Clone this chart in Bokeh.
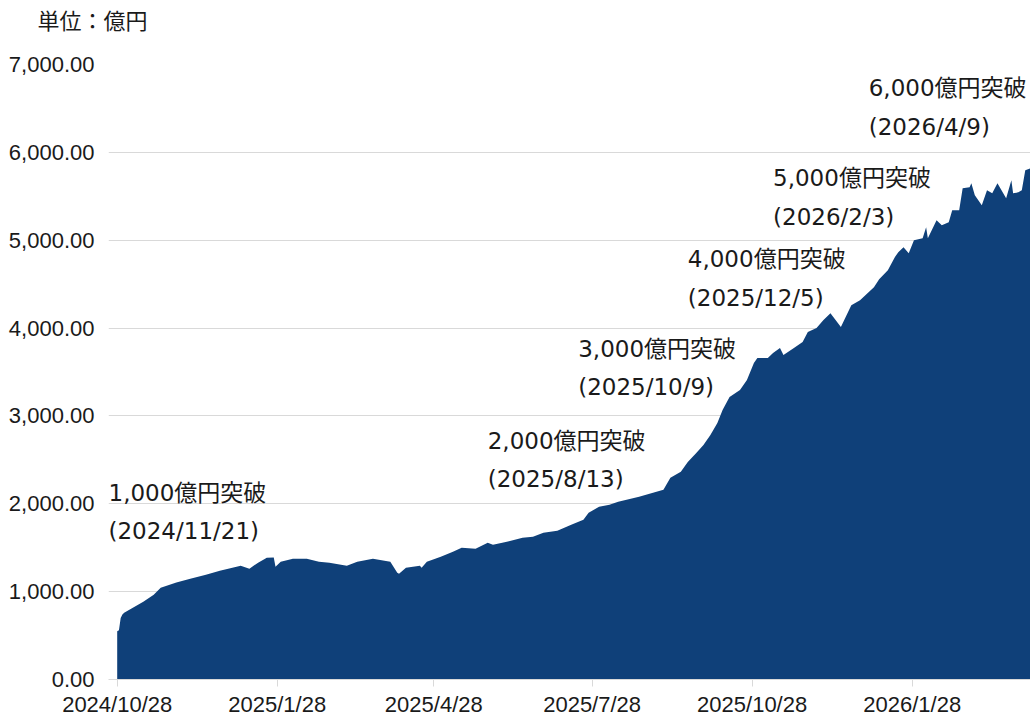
import pandas as pd
from bokeh.plotting import figure
from bokeh.models import Range1d, FixedTicker, NumeralTickFormatter, Label, Title
from bokeh.embed import file_html
from bokeh.resources import INLINE

# ---- data ----
dates = [
    "2024-10-28", "2024-10-29", "2024-10-30", "2024-10-31", "2024-11-01", "2024-11-06",
    "2024-11-12", "2024-11-18", "2024-11-22", "2024-12-01", "2024-12-09", "2024-12-18",
    "2024-12-26", "2025-01-07", "2025-01-12", "2025-01-17", "2025-01-22", "2025-01-26",
    "2025-01-27", "2025-01-30", "2025-02-06", "2025-02-14", "2025-02-21", "2025-02-27",
    "2025-03-09", "2025-03-15", "2025-03-24", "2025-04-03", "2025-04-07", "2025-04-08",
    "2025-04-12", "2025-04-20", "2025-04-21", "2025-04-24", "2025-05-02", "2025-05-09",
    "2025-05-14", "2025-05-22", "2025-05-29", "2025-06-01", "2025-06-09", "2025-06-18",
    "2025-06-24", "2025-06-30", "2025-07-08", "2025-07-16", "2025-07-23", "2025-07-26",
    "2025-08-01", "2025-08-07", "2025-08-12", "2025-08-24", "2025-09-01", "2025-09-07",
    "2025-09-11", "2025-09-17", "2025-09-21", "2025-09-26", "2025-09-30", "2025-10-04",
    "2025-10-08", "2025-10-11", "2025-10-15", "2025-10-21", "2025-10-25", "2025-10-29",
    "2025-10-31", "2025-11-06", "2025-11-09", "2025-11-13", "2025-11-15", "2025-11-21",
    "2025-11-26", "2025-11-29", "2025-12-04", "2025-12-08", "2025-12-12", "2025-12-18",
    "2025-12-24", "2025-12-29", "2026-01-06", "2026-01-09", "2026-01-14", "2026-01-18",
    "2026-01-20", "2026-01-23", "2026-01-26", "2026-01-29", "2026-02-03", "2026-02-05",
    "2026-02-06", "2026-02-11", "2026-02-14", "2026-02-18", "2026-02-20", "2026-02-24",
    "2026-02-26", "2026-03-02", "2026-03-03", "2026-03-05", "2026-03-09", "2026-03-12",
    "2026-03-15", "2026-03-18", "2026-03-23", "2026-03-26", "2026-03-27", "2026-03-30",
    "2026-04-01", "2026-04-03", "2026-04-06",
]
values = [
    550, 560, 700, 740, 760, 818,
    886, 966, 1045, 1103, 1148, 1193,
    1239, 1295, 1261, 1330, 1386, 1390,
    1284, 1341, 1375, 1375, 1341, 1330,
    1295, 1341, 1375, 1341, 1216, 1205,
    1273, 1295, 1273, 1341, 1398, 1455,
    1500, 1489, 1557, 1534, 1568, 1614,
    1625, 1670, 1693, 1761, 1818, 1898,
    1966, 1989, 2023, 2080, 2125, 2159,
    2295, 2364, 2477, 2580, 2670, 2784,
    2920, 3068, 3216, 3295, 3409, 3602,
    3659, 3659, 3716, 3773, 3693, 3773,
    3841, 3955, 4000, 4091, 4170, 4011,
    4261, 4318, 4466, 4557, 4659, 4807,
    4864, 4920, 4852, 5000, 5023, 5148,
    5023, 5227, 5170, 5205, 5341, 5341,
    5591, 5602, 5648, 5511, 5398, 5568,
    5534, 5648, 5477, 5682, 5534, 5545,
    5568, 5795, 5818,
]

x_tick_labels = ["2024/10/28", "2025/1/28", "2025/4/28", "2025/7/28", "2025/10/28", "2026/1/28"]
y_ticks = [0, 1000, 2000, 3000, 4000, 5000, 6000, 7000]

unit_text = "単位：億円"
milestone_texts = ["1,000億円突破", "2,000億円突破", "3,000億円突破",
                   "4,000億円突破", "5,000億円突破", "6,000億円突破"]
milestone_dates = ["(2024/11/21)", "(2025/8/13)", "(2025/10/9)",
                   "(2025/12/5)", "(2026/2/3)", "(2026/4/9)"]
# label anchors (date, value) in chart coordinates
label_x = ["2024-10-23", "2025-05-29", "2025-07-20", "2025-09-21", "2025-11-09", "2026-01-03"]
label_y_top = [2125, 2716, 3761, 4784, 5705, 6727]
label_y_bottom = [1693, 2284, 3330, 4341, 5261, 6284]


def ms(s):
    return int(pd.Timestamp(s).value // 10**6)


FILL = "#0f4079"
GRID = "#d9d9d9"
TXT = "#1a1a1a"
CJK = "DejaVu Sans, Noto Sans CJK JP"
TICKFONT = "Liberation Sans"

x_start = pd.Timestamp(dates[0]) - pd.Timedelta(days=5)

p = figure(
    width=1030, height=719,
    x_axis_type="datetime",
    x_range=Range1d(x_start, pd.Timestamp(dates[-1])),
    y_range=Range1d(0, 7000),
    output_backend="svg", toolbar_location=None,
    min_border_left=108, min_border_right=0, min_border_top=64, min_border_bottom=39,
)
p.outline_line_color = None
p.background_fill_color = "white"
p.title.text = ""

# spacer between frame and the unit caption, then the caption itself
p.add_layout(Title(text=" ", text_font_size="10px", standoff=18), "above")
p.add_layout(Title(text=unit_text, align="left", offset=-71, standoff=0,
                   text_font=CJK, text_font_size="22px", text_font_style="normal",
                   text_color=TXT), "above")

p.varea(x=pd.to_datetime(dates), y1=0, y2=values, fill_color=FILL, fill_alpha=1.0)

# x axis
xt = [ms(t.replace("/", "-")) for t in x_tick_labels]
p.xaxis.ticker = FixedTicker(ticks=xt)
p.xaxis.major_label_overrides = {k: t for k, t in zip(xt, x_tick_labels)}
p.xaxis.axis_line_color = GRID
p.xaxis.axis_line_width = 1
p.xaxis.major_tick_line_color = GRID
p.xaxis.major_tick_out = 7
p.xaxis.major_tick_in = 0
p.xaxis.minor_tick_line_color = None
p.xaxis.major_label_standoff = 5
p.xaxis.major_label_text_font = TICKFONT
p.xaxis.major_label_text_font_size = "22px"
p.xaxis.major_label_text_color = TXT

# y axis
p.yaxis.ticker = FixedTicker(ticks=y_ticks)
p.yaxis.formatter = NumeralTickFormatter(format="0,0.00")
p.yaxis.axis_line_color = None
p.yaxis.major_tick_line_color = None
p.yaxis.minor_tick_line_color = None
p.yaxis.major_tick_out = 0
p.yaxis.major_tick_in = 0
p.yaxis.major_label_standoff = 14
p.yaxis.major_label_text_font = TICKFONT
p.yaxis.major_label_text_font_size = "22px"
p.yaxis.major_label_text_color = TXT

p.xgrid.grid_line_color = None
p.ygrid.grid_line_color = GRID
p.ygrid.grid_line_width = 1

# annotations
for lx, yt, yb, t1, t2 in zip(label_x, label_y_top, label_y_bottom, milestone_texts, milestone_dates):
    for yy, tt in ((yt, t1), (yb, t2)):
        p.add_layout(Label(x=ms(lx), y=yy, x_units="data", y_units="data", text=tt,
                           text_align="left", text_baseline="middle",
                           text_font=CJK, text_font_size="23px", text_color=TXT))

html = file_html(p, INLINE)
html = html.replace("</head>", "<style>html,body{overflow:hidden;}</style></head>", 1)
open("out.html", "w").write(html)
